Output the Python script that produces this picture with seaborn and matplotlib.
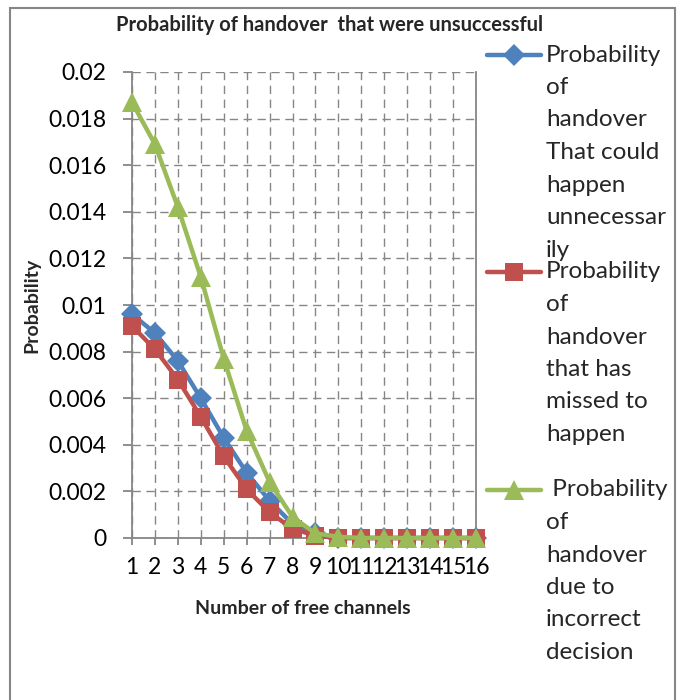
import matplotlib
matplotlib.use("Agg")
import matplotlib.pyplot as plt
import seaborn as sns
import pandas as pd
from matplotlib.lines import Line2D
from matplotlib.patches import Rectangle

# ---- data -------------------------------------------------------------
channels = list(range(1, 17))
p_unnecessary = [0.0096, 0.0088, 0.0076, 0.0060, 0.0043, 0.0028, 0.0016, 0.0006,
                 0.0002, 0, 0, 0, 0, 0, 0, 0]
p_missed = [0.0091, 0.0081, 0.0068, 0.0052, 0.0035, 0.0021, 0.0011, 0.0004,
            0.0001, 0, 0, 0, 0, 0, 0, 0]
p_incorrect = [0.0187, 0.0169, 0.0142, 0.0112, 0.0077, 0.0046, 0.0024, 0.0009,
               0.0002, 0.00005, 0, 0, 0, 0, 0, 0]
y_ticks = [0, 0.002, 0.004, 0.006, 0.008, 0.01, 0.012, 0.014, 0.016, 0.018, 0.02]

legend_lines = [
    ["Probability", "of", "handover", "That could", "happen", "unnecessar", "ily"],
    ["Probability", "of", "handover", "that has", "missed to", "happen"],
    [" Probability", "of", "handover", "due to", "incorrect", "decision"],
]
title = "Probability of handover  that were unsuccessful"
x_label = "Number of free channels"
y_label = "Probability"

# ---- style ------------------------------------------------------------
sns.set_style("white")
plt.rcParams["font.family"] = ["Lato", "DejaVu Sans"]

BLUE, RED, GREEN = "#4F81BD", "#C0504D", "#9BBB59"
GRAY = "#868686"
W, H = 686, 700


def fx(px):
    return px / W


def fy(py):
    return 1 - py / H


fig = plt.figure(figsize=(W / 100, H / 100), dpi=100)
ax = fig.add_axes([fx(132), fy(538), fx(476) - fx(132), fy(72) - fy(538)])

df = pd.DataFrame({"channels": channels, "unnecessary": p_unnecessary,
                   "missed": p_missed, "incorrect": p_incorrect})

series = [
    ("unnecessary", BLUE, "D", 11),
    ("missed", RED, "s", 13),
    ("incorrect", GREEN, "^", 14),
]
for col, color, marker, ms in series:
    sns.lineplot(data=df, x="channels", y=col, ax=ax, color=color, lw=3.2,
                 marker=marker, markersize=ms, markeredgewidth=0, legend=False,
                 clip_on=False, zorder=3)

ax.set_xlim(1, 16)
ax.set_ylim(0, 0.02)
ax.set_xticks(channels)
ax.set_xticklabels([str(c) for c in channels])
ax.set_yticks(y_ticks)
ax.set_yticklabels([f"{v:g}" for v in y_ticks])

ax.grid(True, color=GRAY, lw=1.0, linestyle=(0, (6, 4)))
ax.set_axisbelow(True)
for name, sp in ax.spines.items():
    sp.set_color(GRAY)
    sp.set_linewidth(1.3)
ax.spines["top"].set_visible(False)

ax.tick_params(axis="y", direction="out", length=6.5, width=1.3, color=GRAY,
               pad=12, labelsize=16.5, labelcolor="black", left=True)
ax.tick_params(axis="x", direction="out", length=5, width=1.3, color=GRAY,
               pad=9, labelsize=16.5, labelcolor="black", bottom=True)

ax.set_xlabel("")
ax.set_ylabel("")
fig.text(fx(303), fy(608), x_label, ha="center", va="center",
         fontsize=14, fontweight="bold")
fig.text(fx(32), fy(305), y_label, ha="center", va="center", rotation=90,
         fontsize=14, fontweight="bold")
fig.text(fx(330), fy(25), title, ha="center", va="center",
         fontsize=14.5, fontweight="bold")

# ---- legend on the right -----------------------------------------------
entry_top = [55, 272, 490]
step = 32.5
for (col, color, marker, ms), lines, y0 in zip(series, legend_lines, entry_top):
    fig.add_artist(Line2D([fx(487), fx(541)], [fy(y0), fy(y0)], color=color,
                          lw=3.2, marker=None, solid_capstyle="round"))
    fig.add_artist(Line2D([fx(514)], [fy(y0)], color=color, marker=marker,
                          markersize=ms, markeredgewidth=0, lw=0))
    for i, line in enumerate(lines):
        fig.text(fx(546), fy(y0 + i * step), line, ha="left", va="center",
                 fontsize=17.5)

# chart frame
fig.add_artist(Rectangle((fx(10), fy(720)), fx(675) - fx(10), fy(8) - fy(720),
                         fill=False, edgecolor=GRAY, lw=1.5,
                         transform=fig.transFigure))

fig.savefig("out.png", dpi=100, facecolor="white")
